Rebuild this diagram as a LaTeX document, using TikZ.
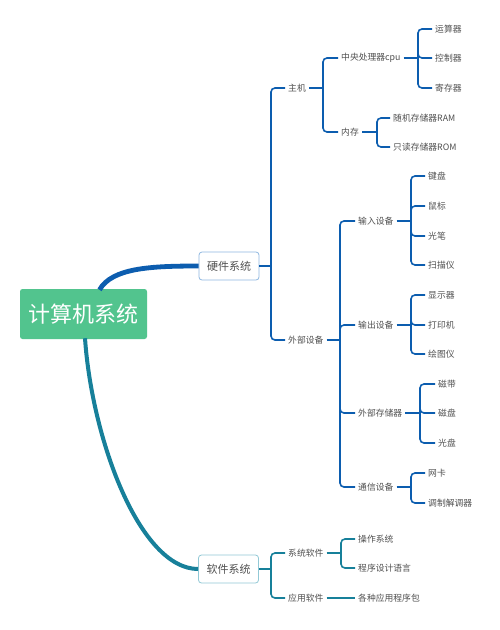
\documentclass[tikz,border=0pt]{standalone}
\usepackage{fontspec}
\setmainfont{Noto Sans CJK SC}
\usetikzlibrary{calc}
\definecolor{hwblue}{HTML}{0C5DAF}
\definecolor{swteal}{HTML}{17809A}
\definecolor{rootgreen}{HTML}{52C48E}
\definecolor{txtgray}{HTML}{505050}
\definecolor{hwborder}{HTML}{8FB8E0}
\definecolor{swborder}{HTML}{92C9D6}
\begin{document}
\begin{tikzpicture}[x=1pt,y=-1pt,
  leaf/.style={anchor=west,inner sep=3pt,font=\fontsize{8.8}{10}\selectfont,text=txtgray},
  mainbox/.style={draw,rounded corners=3pt,fill=white,minimum width=60pt,minimum height=28pt,inner sep=0pt,font=\fontsize{11}{13}\selectfont,text=txtgray,line width=0.8pt},
  hwline/.style={draw=hwblue,line width=1.6pt},
  swline/.style={draw=swteal,line width=1.6pt},
  brk/.style={rounded corners=4pt}]
\useasboundingbox (0,0) rectangle (500,630);
\fill[white] (0,0) rectangle (500,630);

% root and main boxes
\node[fill=rootgreen,rounded corners=2.5pt,minimum width=127pt,minimum height=50pt,inner sep=0pt,text=white,font=\fontsize{22}{26}\selectfont] (root) at (83.5,314) {计算机系统};
\node[mainbox,draw=hwborder] (hw) at (229,266) {硬件系统};
\node[mainbox,draw=swborder] (sw) at (228.5,569) {软件系统};

\draw[hwblue,line width=4.8pt] ($(root.north)+(16,1)$) .. controls (112,268) and (150,266) .. (hw.west);
\draw[swteal,line width=4pt] ($(root.south)+(1.5,-1)$) .. controls (92,440) and (140,569) .. (sw.west);

% ---- hardware level 1
\node[leaf] (zj) at (285,88) {主机};
\node[leaf] (wb) at (285,340) {外部设备};
\coordinate (b0) at (271,0);
\draw[hwline] (hw.east) -- (hw.east -| b0);
\draw[hwline,brk] (hw.east -| b0) |- (zj.west);
\draw[hwline,brk] (hw.east -| b0) |- (wb.west);

% 主机
\node[leaf] (cpu) at (338,58) {中央处理器cpu};
\node[leaf] (nc) at (338,132) {内存};
\coordinate (b1) at (323,0);
\draw[hwline] (zj.east) -- (zj.east -| b1);
\draw[hwline,brk] (zj.east -| b1) |- (cpu.west);
\draw[hwline,brk] (zj.east -| b1) |- (nc.west);

% cpu
\node[leaf] (ys) at (432,29) {运算器};
\node[leaf] (kz) at (432,58) {控制器};
\node[leaf] (jc) at (432,88) {寄存器};
\coordinate (b2) at (418,0);
\draw[hwline] (cpu.east) -- (cpu.east -| b2);
\foreach \c in {ys,kz,jc} \draw[hwline,brk] (cpu.east -| b2) |- (\c.west);

% 内存
\node[leaf] (ram) at (390,118) {随机存储器RAM};
\node[leaf] (rom) at (390,147) {只读存储器ROM};
\coordinate (b3) at (377,0);
\draw[hwline] (nc.east) -- (nc.east -| b3);
\foreach \c in {ram,rom} \draw[hwline,brk] (nc.east -| b3) |- (\c.west);

% 外部设备
\node[leaf] (sr) at (355,221) {输入设备};
\node[leaf] (sc) at (355,325) {输出设备};
\node[leaf] (wc) at (355,413) {外部存储器};
\node[leaf] (tx) at (355,487) {通信设备};
\coordinate (b4) at (340,0);
\draw[hwline] (wb.east) -- (wb.east -| b4);
\foreach \c in {sr,sc,wc,tx} \draw[hwline,brk] (wb.east -| b4) |- (\c.west);

% 输入设备
\node[leaf] (jp) at (425,176) {键盘};
\node[leaf] (sb) at (425,206) {鼠标};
\node[leaf] (gb) at (425,236) {光笔};
\node[leaf] (smy) at (425,265) {扫描仪};
\coordinate (b5) at (411,0);
\draw[hwline] (sr.east) -- (sr.east -| b5);
\foreach \c in {jp,sb,gb,smy} \draw[hwline,brk] (sr.east -| b5) |- (\c.west);

% 输出设备
\node[leaf] (xsq) at (425,295) {显示器};
\node[leaf] (dyj) at (425,325) {打印机};
\node[leaf] (hty) at (425,354) {绘图仪};
\draw[hwline] (sc.east) -- (sc.east -| b5);
\foreach \c in {xsq,dyj,hty} \draw[hwline,brk] (sc.east -| b5) |- (\c.west);

% 外部存储器
\node[leaf] (cd) at (435,384) {磁带};
\node[leaf] (cp) at (435,413) {磁盘};
\node[leaf] (gp) at (435,443) {光盘};
\coordinate (b6) at (420,0);
\draw[hwline] (wc.east) -- (wc.east -| b6);
\foreach \c in {cd,cp,gp} \draw[hwline,brk] (wc.east -| b6) |- (\c.west);

% 通信设备
\node[leaf] (wk) at (425,473) {网卡};
\node[leaf] (tzj) at (425,503) {调制解调器};
\draw[hwline] (tx.east) -- (tx.east -| b5);
\foreach \c in {wk,tzj} \draw[hwline,brk] (tx.east -| b5) |- (\c.west);

% ---- software
\node[leaf] (xt) at (285,553) {系统软件};
\node[leaf] (yy) at (285,598) {应用软件};
\draw[swline] (sw.east) -- (sw.east -| b0);
\foreach \c in {xt,yy} \draw[swline,brk] (sw.east -| b0) |- (\c.west);

\node[leaf] (czxt) at (355,539) {操作系统};
\node[leaf] (cxsj) at (355,568) {程序设计语言};
\coordinate (b7) at (341,0);
\draw[swline] (xt.east) -- (xt.east -| b7);
\foreach \c in {czxt,cxsj} \draw[swline,brk] (xt.east -| b7) |- (\c.west);

\node[leaf] (gz) at (355,598) {各种应用程序包};
\draw[swline] (yy.east) -- (gz.west);
\end{tikzpicture}
\end{document}
